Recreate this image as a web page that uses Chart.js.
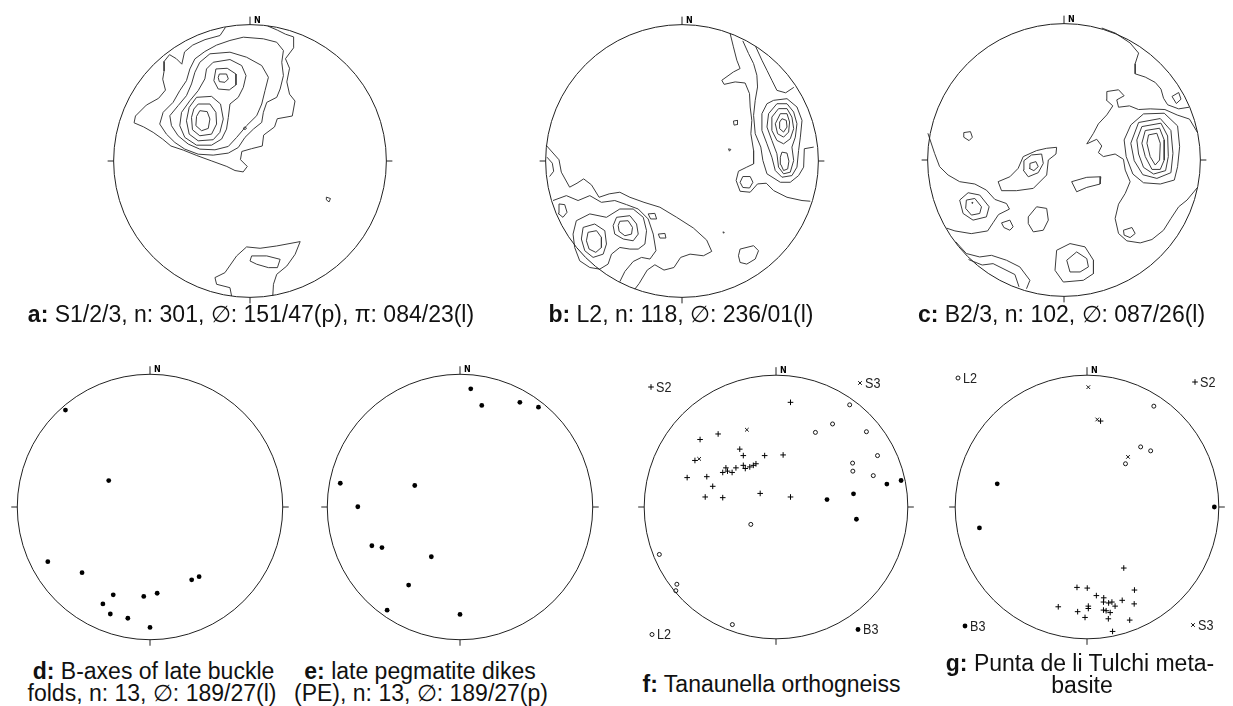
<!DOCTYPE html>
<html>
<head>
<meta charset="utf-8">
<script src="https://cdn.jsdelivr.net/npm/chart.js@4.4.1/dist/chart.umd.min.js"></script>
<style>
  html, body { margin: 0; padding: 0; background: #fff; }
  body { width: 1233px; height: 706px; position: relative; overflow: hidden;
         font-family: "Liberation Sans", Arial, sans-serif; color: #111; }
  canvas.net { position: absolute; width: 300px; height: 300px; }
  .cap { position: absolute; white-space: nowrap; font-size: 23px; line-height: 23px;
         transform: translateX(-50%); }
  .cap b { font-weight: bold; }
</style>
</head>
<body>
<script>
// All net coordinates: percent of the primitive radius, east = +x, north = +y.

// ---- a: S1/2/3 poles, density contours ----
const openA = [
  [[-18,98],[-22,92],[-33,89],[-42,85],[-48,80],[-50,71],[-54,75],[-59,78],[-63,73],[-63,66],[-64,60],[-62,52],[-67,46],[-76,41],[-84,33],[-85,28],[-78,25],[-71,21],[-64,16],[-58,11],[-49,8],[-39,4],[-28,0],[-17,-4],[-11,-7],[-5,-8],[-2,-4],[-7,1],[-6,7],[1,9],[9,11],[10,19],[18,25],[20,31],[31,33],[33,44],[29,49],[27,58],[29,68],[26,75],[32,83],[32,91],[26,93],[20,96],[13,99]],
  [[-13.5,-99],[-14.7,-92.9],[-24.5,-90.4],[-25.7,-85.5],[-18.4,-81.9],[-9.8,-69.6],[-2.5,-63],[7.4,-64],[19.6,-62.3],[36.8,-59.1],[33.1,-68.4],[27,-77],[19.6,-83.1],[17.2,-90.4],[16.7,-99]]
];
const loopsA = [
  [[-14.7,88.4],[-4.9,90.8],[9.8,89.6],[19.6,87.1],[24.5,81],[23.3,72.4],[24.5,62.6],[22.1,52.8],[19.6,46.7],[12.3,43],[9.8,35.7],[8.6,28.3],[2.5,23.4],[-3.7,17.3],[-8.6,9.9],[-15.9,5.8],[-27,4.3],[-38,5],[-47.8,8.7],[-55.1,13.6],[-61.3,19.7],[-66.2,27.1],[-63.7,35.7],[-56.4,43],[-51.5,51.6],[-46.6,58.9],[-44.1,67.5],[-40.4,74.9],[-33.1,80.3],[-24.5,85]],
  [[-29.4,78.6],[-14.7,79.8],[-2.5,76.1],[8.6,70],[13.5,61.4],[11,51.6],[8.6,41.8],[4.9,33.2],[-2.5,25.9],[-9.8,17.3],[-15.9,10.7],[-25.7,8.2],[-36.8,8.7],[-45.3,12.4],[-52.7,18.5],[-57.6,25.9],[-58.8,33.2],[-52.7,40.6],[-46.6,47.9],[-42.9,56.5],[-40.4,65.1],[-36.8,72.4]],
  [[-27,72.4],[-14.7,74.4],[-6.1,70],[-2.9,62.6],[-4.9,54],[-8.6,46.7],[-14.7,41.8],[-15.9,32],[-17.2,23.4],[-20.8,16.1],[-28.2,11.6],[-39.2,11.6],[-47.8,17.3],[-51.5,25.9],[-50.2,35.7],[-44.1,44.2],[-38,51.6],[-33.1,60.2],[-31.9,67.5]],
  [[-25,67.5],[-16.7,68],[-10.3,63.8],[-10.3,55.8],[-15.2,52.1],[-23.3,52.8],[-26.5,58.9]],
  [[-22.5,63.8],[-17.2,63.8],[-15.9,60.2],[-18.4,57.7],[-22.5,58.2],[-23.3,61.2]],
  [[-39.2,46.7],[-28.2,47.4],[-21.6,41.8],[-19.6,30.8],[-22.1,21],[-27,15.6],[-38,14.8],[-44.6,19.7],[-46.6,29.5],[-44.6,39.3]],
  [[-38,41.8],[-29.4,41.8],[-25,35.7],[-24.5,27.1],[-28.2,19.7],[-36.8,18.5],[-42.2,22.9],[-42.9,32],[-41.2,38.1]],
  [[-36.8,36.9],[-31.4,36.2],[-29.4,30.8],[-30.6,23.9],[-35.5,22.2],[-39.7,25.9],[-39.2,32.7]],
  [[-5,24],[-3.7,25],[-2.5,24],[-3.7,23]],
  [[56,-26.5],[59,-27.5],[58,-30],[56,-28.5]],
  [[1.2,-69.6],[12.3,-69.6],[22.1,-72.1],[20.1,-78.2],[13.5,-78.2],[4.9,-75.7],[0,-73.3]]
];

// ---- b: L2 lineations, density contours ----
const openB = [
  [[35.3,93.5],[37.7,83.7],[40.2,73.9],[42.6,67.8],[37.7,65.3],[29.2,59.2],[30.9,56.2],[39,58],[46.3,57.2],[49.5,49.4],[50,39.6],[51.2,29.8],[50.5,20],[52.5,7.7],[52.5,-2.1],[47.5,-4.5],[41.4,-7.5],[39.7,-14.3],[42.6,-22.2],[50,-22.9],[55.4,-16.8],[61.8,-16.3],[67.2,-21.7],[77,-26.6],[88,-29],[94.1,-29.5]],
  [[44.6,88.1],[48.8,78.8],[52.5,71.4],[54.9,62.9],[55.4,54.3],[53.7,44.5],[52.5,33.5],[53.7,20],[57.8,10.2],[59.3,0.4],[62.3,-9.4],[72.1,-15.6],[79.4,-15.6],[85.5,-10.7],[89.2,-4.5],[89.7,9],[96.6,10.2]],
  [[54,84],[58.6,73.9],[62.3,66.5],[65.9,59.2],[69.6,51.8],[76,50],[82,54]],
  [[-99.5,11.4],[-90.2,0.9],[-88.5,-8.2],[-82.4,-19.2],[-77,-16.3],[-72.1,-13.1],[-66.4,-17.5],[-60.8,-26.6],[-53.4,-24.1],[-45.6,-22.9],[-38.2,-26.6],[-27.9,-30.3],[-16.2,-33.9],[-3.9,-41.3],[8.3,-49.1],[18.1,-58],[21.8,-66.3],[15.7,-69.5],[5.9,-68.3],[-1,-70.7],[-5.9,-78.1],[-13.2,-80],[-19.9,-76.1],[-25.5,-80],[-31.4,-89.8],[-34.6,-94]],
  [[-94.6,-29],[-84.8,-25.4],[-76.2,-29],[-67.6,-25.4],[-59.1,-30.3],[-49.3,-29],[-40.7,-32],[-32.1,-35.2],[-24.8,-42.5],[-21.1,-53.6],[-19.1,-65.8],[-23.5,-71.9],[-29.7,-70.7],[-35.8,-73.7],[-41.9,-81],[-45.6,-88.5]],
  [[-99,2.8],[-95.1,-1.6],[-94.1,-7.5],[-97.1,-11.4]]
];
const loopsB = [
  [[67.2,44.5],[77,45.7],[84.3,39.6],[88,29.8],[86.8,17.5],[85.5,7.7],[84.3,-4.5],[80.6,-10.7],[73.3,-11.9],[68.4,-7],[65.9,2.8],[62.3,12.6],[58.6,22.4],[58.6,34.7],[62.3,42]],
  [[69.6,42],[77,42],[81.9,35.9],[84.3,27.3],[83.1,17.5],[80.6,10.2],[81.9,0.4],[79.4,-8.2],[74.5,-9.4],[70.8,-4.5],[69.6,5.3],[65.9,15.1],[62.3,24.9],[63.5,34.7]],
  [[70.8,38.4],[77,38.4],[80.6,32.2],[81.9,23.7],[79.4,16.3],[74.5,12.6],[69.6,15.1],[65.9,22.4],[65.9,32.2]],
  [[72.1,34.7],[77,34.7],[78.9,28.6],[78.2,21.2],[74.5,17.5],[70.1,20],[68.4,27.3]],
  [[73.3,31],[76.5,29.8],[77,24.9],[74.5,21.2],[71.6,23.7],[71.6,28.6]],
  [[73.3,6.5],[77,5.8],[78.4,-0.1],[77.5,-5.8],[74.5,-7],[72.5,-2.6],[72.1,2.8]],
  [[44.6,-11.4],[50,-11.4],[52,-15.6],[49.5,-19.8],[44.6,-19.4],[42.6,-15.6]],
  [[37.7,29.3],[40.7,29.8],[40.7,26.8],[38.2,26.3]],
  [[34.1,8.9],[35.8,8.5],[34.8,7.2]],
  [[30,-52],[31,-52.3],[30.5,-53]],
  [[42.6,-64.6],[52.5,-62.1],[56.1,-65.8],[53.7,-71.9],[47.5,-75.6],[42.6,-74.4],[41.4,-69.5]],
  [[-77.5,-43.8],[-67.6,-38.8],[-55.4,-41.3],[-45.6,-35.2],[-35.8,-35.2],[-28.4,-41.3],[-26,-51.1],[-27.2,-60.9],[-32.1,-64.6],[-38.2,-64.6],[-45.6,-63.4],[-51.7,-68.3],[-54.2,-75.6],[-60.3,-79.3],[-67.6,-78.1],[-75,-73.2],[-78.7,-63.4],[-79.9,-53.6]],
  [[-48,-41.3],[-38.2,-40.1],[-33.3,-46.2],[-32.1,-53.6],[-35.8,-58.5],[-43.1,-57.2],[-49.3,-53.6],[-50.5,-47.4]],
  [[-45.6,-44.2],[-39.5,-43.8],[-36.3,-48.7],[-37,-53.6],[-41.9,-54.8],[-46.1,-51.6],[-46.8,-47.4]],
  [[-72.5,-48.7],[-64,-46.2],[-56.6,-51.1],[-55.4,-60.9],[-57.8,-68.3],[-65.2,-70.7],[-71.3,-65.8],[-73.8,-57.2]],
  [[-68.9,-52.3],[-62.7,-51.1],[-59.1,-56],[-59.1,-63.4],[-63.2,-67],[-68.1,-64.6],[-70.1,-58.5]],
  [[-90.2,-31.5],[-86,-32],[-84.3,-37.6],[-87.3,-41.3],[-90.9,-38.4]],
  [[-24.8,-38.8],[-19.9,-38.4],[-18.6,-42.5],[-23,-42.5]],
  [[-17.4,-53.6],[-12.5,-53.1],[-11.8,-56.5],[-16.2,-56.5]]
];

// ---- c: B2/3 fold axes, density contours ----
const openC = [
  [[27.7,96.8],[37.5,93.1],[48.5,85.8],[54.7,78.4],[52.2,70.6],[52.2,63.2],[59.6,60.8],[66.9,56.9],[71.1,52],[73,45.3],[76,40.5],[84.1,37.5],[91.7,38.7]],
  [[31.4,50.2],[40,51.5],[44.1,47.1],[38.7,44.1],[40,38.7],[48,39.7],[54.7,37],[63.2,37.5],[74,37],[83,33],[92,30],[98,20]],
  [[98,-20],[90.2,-29.4],[84.1,-34.3],[78.4,-42.9],[73,-51.5],[64.5,-58.3],[55.9,-60.8],[46.1,-59.3],[40,-53.9],[37.5,-42.9],[40,-32.4],[44.9,-24.5],[48.5,-15.9],[44.9,-7.4],[43.6,0.5],[37.5,4.4],[28.9,2.5],[25.2,5.4],[27.7,10.3],[24,15.2],[16.7,11.8],[21.6,19.6],[25.2,26.5],[31.4,33.1],[35.8,39.7],[30.9,44.1],[31.4,50.2]],
  [[-99.8,19.6],[-94.9,4.9],[-91.2,-4.9],[-85,-11],[-76.5,-15.9],[-65.4,-17.6],[-56.9,-22.1],[-50.7,-28.9],[-42.2,-31.9],[-40,-36],[-48,-40],[-52,-46],[-56,-52],[-68,-54],[-80,-52],[-86,-50]],
  [[-79.4,-60],[-71.6,-68.6],[-61.8,-71.1],[-53.2,-69.9],[-42.2,-73.5],[-32.4,-78.4],[-25,-88.2],[-27.5,-94.4]],
  [[-70,-73],[-60,-77],[-52,-76],[-44,-80],[-36,-84],[-33,-93]]
];
const loopsC = [
  [[62,18.4],[68.1,19.6],[70.6,12.3],[70.1,0],[66.9,-3.7],[63.2,2.5],[60.8,12.3]],
  [[59.6,21.6],[70.1,23.3],[73.5,14.7],[73.5,0],[70.6,-6.9],[64.5,-6.9],[59.6,2.5],[57.1,12.3]],
  [[57.1,24.5],[71.1,27],[76,17.6],[76.5,2.5],[74.5,-7.8],[65.7,-10.3],[58.3,-5.4],[54.7,4.4],[53.4,14.7]],
  [[54.7,27.5],[70.6,30.4],[78.4,21.6],[79.9,4.9],[78.4,-9.3],[68.1,-13.5],[57.8,-10.8],[51.5,-0.5],[49,12.3]],
  [[49,25.7],[58.3,33.8],[73.5,34.3],[83.3,25],[84.8,9.8],[83.3,-4.9],[80.9,-14.7],[70.6,-17.6],[58.3,-16.7],[50.5,-10.3],[45.6,2.5],[44.1,14.7]],
  [[79.2,46.6],[84.1,49.5],[85.8,44.6],[82.4,41.4]],
  [[-73.5,20.1],[-68.6,20.8],[-67.2,16.7],[-69.6,14.2],[-73.5,16.7]],
  [[-29.4,-0.5],[-23.8,3.7],[-16.4,4.4],[-15.2,-2.5],[-18.9,-9.3],[-26.2,-12.3],[-29.9,-7.4]],
  [[-25,-2.5],[-20.6,-1.2],[-18.9,-4.9],[-22.1,-7.8],[-25.5,-6.1]],
  [[-48.3,-15.9],[-39.7,-12.3],[-33.6,-6.1],[-29.9,2.5],[-20.1,6.9],[-12.7,8.6],[-5.4,9.3],[-5.9,4.4],[-11.5,0],[-12.7,-11],[-22.5,-20.8],[-34.8,-22.5],[-45.8,-22.5]],
  [[5.6,-15.9],[16.7,-12.7],[27,-12.3],[26.5,-17.6],[16.7,-20.1],[9.3,-23.3]],
  [[-76.5,-29.4],[-70.3,-24],[-61.8,-25.7],[-54.9,-34.3],[-56.9,-41.7],[-66.7,-44.1],[-74,-39.2]],
  [[-71.6,-29.4],[-65.4,-28.2],[-60.5,-34.3],[-61.8,-39.2],[-67.9,-40.4],[-72.1,-35.5]],
  [[-67.5,-31],[-66.8,-31.2],[-67.2,-31.8]],
  [[-45.8,-46.1],[-39.7,-44.1],[-37.3,-49],[-39.7,-51.5],[-44.1,-49.5]],
  [[-26.2,-41.7],[-20.1,-34.3],[-12.7,-35.5],[-11.5,-44.1],[-15.2,-51.5],[-22.5,-52.7],[-26.2,-46.6]],
  [[2,-73.5],[9.3,-67.4],[16.7,-72.3],[17.9,-78.4],[11.8,-82.1],[4.4,-82.1]],
  [[-5.4,-66.2],[4.4,-61.3],[15.4,-63.7],[21.6,-73.5],[21.6,-83.3],[14.2,-88.2],[-0.5,-89.5],[-6.6,-80.9]],
  [[43.6,-51.5],[49.8,-49.5],[52.2,-53.9],[48.5,-56.9],[44.1,-55.1]]
];

// ---- d: B-axes of late buckle folds ----
const axesD = [[-63.7,73.0],[-31.1,19.9],[-77.0,-41.2],[-51.2,-49.5],[31.4,-54.9],[37.0,-52.5],[-27.7,-66.2],[-4.7,-67.4],[5.4,-65.0],[-35.5,-73.0],[-29.9,-80.6],[-16.7,-83.8],[0,-90.7]];

// ---- e: poles to late pegmatite dikes ----
const polesE = [[8.1,89.0],[16.4,76.5],[45.1,78.9],[59.1,75.2],[-90.2,17.9],[-34.1,16.2],[-77.0,0.2],[-66.4,-29.2],[-58.8,-30.6],[-21.6,-37.5],[-38.7,-58.8],[-54.9,-77.7],[0,-80.9]];

// ---- f: Tanaunella orthogneiss ----
const s2F = [[11.0,79.4],[-43.9,55.4],[-57.6,51.2],[-27.5,43.9],[-24.8,39.0],[-8.6,39.0],[5.4,39.5],[-61.5,35.3],[-38.0,29.7],[-40.4,26.2],[-36.8,27.2],[-33.3,26.2],[-30.4,29.7],[-24.8,31.6],[-23.3,29.2],[-19.9,30.4],[-17.2,31.6],[-15.2,32.8],[-67.4,22.3],[-52.5,23.0],[-48.0,15.7],[-53.7,7.6],[-40.4,7.1],[-12.0,10.3],[11.0,7.6]];
const s3F = [[-22.1,58.6],[-58.3,36.5]];
const l2F = [[55.9,77.5],[42.9,63.0],[29.9,56.6],[68.6,57.1],[77.0,39.0],[58.1,33.3],[58.3,27.2],[73.8,23.8],[-19.1,-13.2],[-88.5,-36.0],[-75.2,-58.6],[-76.0,-63.5],[-33.1,-89.2]];
const b3F = [[38.7,5.6],[58.8,10.0],[84.1,17.4],[94.9,20.1],[61.0,-9.3]];

// ---- g: Punta de li Tulchi metabasite ----
const s2G = [[10.3,65.2],[27.9,-46.3],[-7.6,-61.0],[0.2,-61.5],[36.0,-63.0],[7.1,-67.2],[12.7,-68.9],[12.5,-72.1],[16.4,-72.8],[18.9,-72.1],[21.3,-75.2],[26.7,-70.8],[35.8,-73.5],[-21.8,-75.7],[1.0,-75.2],[1.0,-77.0],[-7.1,-79.4],[12.5,-78.2],[14.5,-78.7],[17.6,-80.1],[-1.5,-83.8],[16.2,-84.8],[32.4,-85.8],[19.4,-94.4]];
const s3G = [[1.0,90.9],[7.8,66.4],[31.1,38.0]];
const l2G = [[50.7,76.5],[40.7,45.6],[48.3,42.6],[29.2,32.8]];
const b3G = [[-68.1,17.6],[-81.6,-15.9],[96.6,0]];

// ---------------------------------------------------------------
const INK = '#222';
const CONTOUR = '#3c3c3c';

const toXY = pts => pts.map(([x, y]) => ({ x, y }));
const closed = pts => toXY(pts.concat([pts[0]]));

function contourSets(openLines, loops) {
  const line = d => ({ data: d, showLine: true, pointRadius: 0, borderColor: CONTOUR,
                       borderWidth: 1, tension: 0, fill: false });
  return openLines.map(p => line(toXY(p))).concat(loops.map(p => line(closed(p))));
}

// marker styles shared by the datasets and the corner keys
const MARK = {
  S2: { pointStyle: 'cross',    pointRadius: 2.8, borderWidth: 1,   borderColor: '#000', backgroundColor: '#000' },
  S3: { pointStyle: 'crossRot', pointRadius: 2.6, borderWidth: 0.9, borderColor: '#000', backgroundColor: '#000' },
  L2: { pointStyle: 'circle',   pointRadius: 2,   borderWidth: 0.9, borderColor: '#000', backgroundColor: '#fff' },
  B3: { pointStyle: 'circle',   pointRadius: 2.4, borderWidth: 0,   borderColor: '#000', backgroundColor: '#000' }
};
const marks = (pts, kind) => ({ data: toXY(pts), ...MARK[kind] });

// primitive circle, N/E/S/W ticks, north label and corner keys
const primitive = {
  id: 'primitive',
  afterDatasetsDraw(chart, args, opts) {
    const { ctx, scales: { x, y } } = chart;
    const cx = x.getPixelForValue(0), cy = y.getPixelForValue(0);
    const r = x.getPixelForValue(100) - cx;
    ctx.save();
    ctx.strokeStyle = INK; ctx.lineWidth = 1;
    ctx.beginPath(); ctx.arc(cx, cy, r, 0, Math.PI * 2); ctx.stroke();
    ctx.beginPath();
    ctx.moveTo(cx, cy - r); ctx.lineTo(cx, cy - r - 8);
    ctx.moveTo(cx - r, cy); ctx.lineTo(cx - r - 6, cy);
    ctx.moveTo(cx + r, cy); ctx.lineTo(cx + r + 6, cy);
    ctx.moveTo(cx, cy + r); ctx.lineTo(cx, cy + r + 6);
    ctx.stroke();
    ctx.fillStyle = '#000';
    ctx.font = 'bold 8px "DejaVu Sans", sans-serif';
    ctx.textBaseline = 'alphabetic';
    ctx.fillText('N', cx + 4, cy - r - 2);
    (opts.keys || []).forEach(k => {
      const m = MARK[k.text];
      const px = cx + k.dx, py = cy + k.dy;
      ctx.save();
      ctx.strokeStyle = m.borderColor;
      ctx.fillStyle = m.backgroundColor;
      ctx.lineWidth = m.borderWidth;
      Chart.helpers.drawPoint(ctx, { pointStyle: m.pointStyle, radius: m.pointRadius,
                                     borderWidth: m.borderWidth, rotation: 0 }, px, py);
      ctx.restore();
      ctx.save();
      ctx.fillStyle = '#222';
      ctx.font = '14px "Liberation Sans", Arial, sans-serif';
      ctx.textBaseline = 'middle';
      ctx.translate(px + 5, py + 1);
      ctx.scale(0.9, 1);
      ctx.fillText(k.text, 0, 0);
      ctx.restore();
    });
    ctx.restore();
  }
};

function makeNet(cx, cy, datasets, keys) {
  const el = document.createElement('canvas');
  el.className = 'net';
  el.width = 300; el.height = 300;
  el.style.left = (cx - 150) + 'px';
  el.style.top = (cy - 150) + 'px';
  document.body.appendChild(el);
  const axis = { type: 'linear', min: -110, max: 110, display: false };
  new Chart(el, {
    type: 'scatter',
    data: { datasets },
    options: {
      responsive: false, animation: false, events: [],
      layout: { padding: 0 },
      scales: { x: axis, y: { ...axis } },
      plugins: { legend: { display: false }, tooltip: { enabled: false }, primitive: { keys } }
    },
    plugins: [primitive]
  });
}

makeNet(250, 160.5, contourSets(openA, loopsA));
makeNet(682, 160.5, contourSets(openB, loopsB));
makeNet(1064, 160, contourSets(openC, loopsC));
makeNet(150, 507, [marks(axesD, 'B3')]);
makeNet(460, 507, [marks(polesE, 'B3')]);
makeNet(776, 506.5, [marks(s2F, 'S2'), marks(s3F, 'S3'), marks(l2F, 'L2'), marks(b3F, 'B3')],
  [{ text: 'S2', dx: -125, dy: -120 }, { text: 'S3', dx: 84, dy: -124 },
   { text: 'L2', dx: -124, dy: 127.5 }, { text: 'B3', dx: 82, dy: 122.5 }]);
makeNet(1087, 507, [marks(s2G, 'S2'), marks(s3G, 'S3'), marks(l2G, 'L2'), marks(b3G, 'B3')],
  [{ text: 'L2', dx: -129, dy: -129 }, { text: 'S2', dx: 108, dy: -125 },
   { text: 'B3', dx: -122, dy: 119 }, { text: 'S3', dx: 106, dy: 118 }]);

// captions: [html, centre x, baseline y]
const captions = [
  ['<b>a:</b> S1/2/3, n: 301, \u2205: 151/47(p), \u03c0: 084/23(l)', 251, 322.5],
  ['<b>b:</b> L2, n: 118, \u2205: 236/01(l)', 681, 322.5],
  ['<b>c:</b> B2/3, n: 102, \u2205: 087/26(l)', 1061.5, 322.5],
  ['<b>d:</b> B-axes of late buckle', 153.5, 679],
  ['folds, n: 13, \u2205: 189/27(l)', 152, 701.5],
  ['<b>e:</b> late pegmatite dikes', 420, 679],
  ['(PE), n: 13, \u2205: 189/27(p)', 421, 701.5],
  ['<b>f:</b> Tanaunella orthogneiss', 771.5, 692],
  ['<b>g:</b> Punta de li Tulchi meta-', 1080, 671],
  ['basite', 1082, 693.5]
];
captions.forEach(([html, cx, base]) => {
  const d = document.createElement('div');
  d.className = 'cap';
  d.innerHTML = html;
  d.style.left = cx + 'px';
  d.style.top = (base - 0.8465 * 23) + 'px';
  document.body.appendChild(d);
});
</script>
</body>
</html>
